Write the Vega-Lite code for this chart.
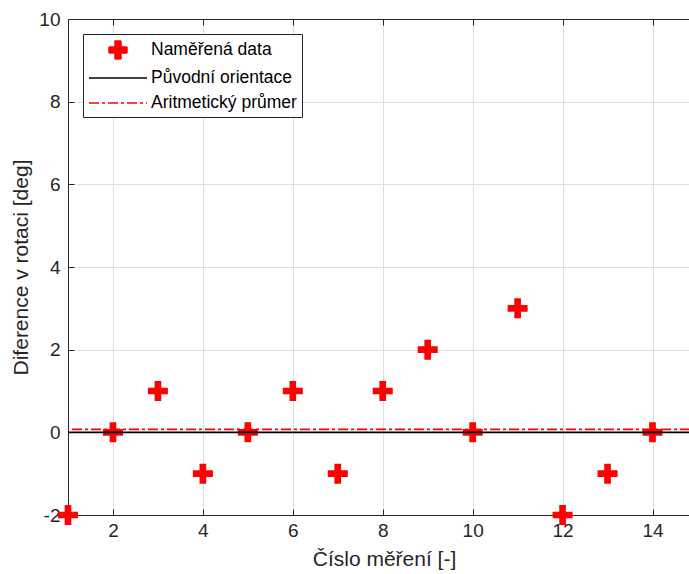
{
  "$schema": "https://vega.github.io/schema/vega-lite/v6.json",
  "width": 622,
  "height": 496,
  "autosize": {"type": "none"},
  "padding": {"left": 68, "top": 19, "right": 0, "bottom": 59},
  "background": "white",
  "config": {
    "font": "Liberation Sans",
    "view": {"stroke": null},
    "axis": {
      "labelFont": "Liberation Sans",
      "labelFontSize": 19,
      "labelColor": "#262626",
      "titleFont": "Liberation Sans",
      "titleFontSize": 21,
      "titleFontWeight": "normal",
      "titleColor": "#262626",
      "domainColor": "#262626",
      "tickColor": "#262626",
      "gridColor": "#dfdfdf",
      "gridOpacity": 1,
      "tickSize": -6,
      "domainWidth": 1,
      "tickWidth": 1
    },
    "axisY": {"labelPadding": 14}
  },
  "resolve": {"axis": {"x": "independent"}},
  "layer": [
    {
      "data": {"values": [
        {"n": 1, "d": -2}, {"n": 2, "d": 0}, {"n": 3, "d": 1}, {"n": 4, "d": -1},
        {"n": 5, "d": 0}, {"n": 6, "d": 1}, {"n": 7, "d": -1}, {"n": 8, "d": 1},
        {"n": 9, "d": 2}, {"n": 10, "d": 0}, {"n": 11, "d": 3}, {"n": 12, "d": -2},
        {"n": 13, "d": -1}, {"n": 14, "d": 0}
      ]},
      "mark": {"type": "point", "filled": true, "size": 494, "opacity": 1, "strokeWidth": 0, "clip": false},
      "encoding": {
        "x": {
          "field": "n", "type": "quantitative",
          "scale": {"domain": [1, 14.834], "nice": false, "zero": false},
          "axis": {"orient": "bottom", "values": [2, 4, 6, 8, 10, 12, 14], "grid": true, "title": "Číslo měření [-]", "labelPadding": 12, "titleX": 316, "titleY": 50, "titleBaseline": "alphabetic", "titleAnchor": "middle", "titleAlign": "center", "labelExpr": "datum.value + ''"}
        },
        "y": {
          "field": "d", "type": "quantitative",
          "scale": {"domain": [-2, 10], "nice": false, "zero": false},
          "axis": {"values": [-2, 0, 2, 4, 6, 8, 10], "grid": true, "title": "Diference v rotaci [deg]", "labelPadding": 14, "titleX": -41, "titleY": 248, "titleBaseline": "alphabetic", "titleAngle": 270, "titleAlign": "center", "titleAnchor": "middle", "labelExpr": "datum.value + ''"}
        },
        "color": {
          "datum": "Naměřená data",
          "title": null,
          "scale": {"domain": ["Naměřená data", "Původní orientace", "Aritmetický průmer"], "range": ["#ff0000", "#000000", "#ff0000"]},
          "legend": {
            "orient": "none", "legendX": 15, "legendY": 15, "title": null,
            "fillColor": "white", "strokeColor": "#262626", "padding": 5,
            "symbolSize": 400, "symbolOffset": 19, "labelOffset": 22,
            "labelFontSize": 17.5, "labelFont": "Liberation Sans", "labelColor": "#000000",
            "rowPadding": 5, "symbolStrokeWidth": 1.5,
            "encode": {"symbols": {"update": {
              "fill": {"scale": "color", "field": "value"},
              "stroke": {"scale": "color", "field": "value"},
              "shape": {"scale": "shape", "field": "value"},
              "strokeDash": {"scale": "strokeDash", "field": "value"},
              "strokeWidth": {"value": 1.5},
              "opacity": {"value": 1}
            }}}
          }
        },
        "shape": {
          "datum": "Naměřená data",
          "scale": {"domain": ["Naměřená data", "Původní orientace", "Aritmetický průmer"], "range": ["M-0.3,-0.9H0.3V-0.3H0.9V0.3H0.3V0.9H-0.3V0.3H-0.9V-0.3H-0.3Z", "M-2.9,0H2.9", "M-2.9,0H2.9"]},
          "legend": null
        }
      }
    },
    {
      "data": {"values": [
        {"series": "Původní orientace", "y": 0},
        {"series": "Aritmetický průmer", "y": 0.0714}
      ]},
      "mark": {"type": "rule", "strokeWidth": 1.6},
      "encoding": {
        "y": {"field": "y", "type": "quantitative"},
        "color": {"field": "series", "type": "nominal", "title": null},
        "strokeDash": {
          "field": "series", "type": "nominal", "title": null,
          "scale": {"domain": ["Naměřená data", "Původní orientace", "Aritmetický průmer"], "range": [[1, 0], [1, 0], [10, 3, 3, 3]]},
          "legend": null
        }
      }
    },
    {
      "data": {"values": [
        {"n": 1, "d": -2}, {"n": 14, "d": 0}
      ]},
      "mark": {"type": "point", "opacity": 0},
      "encoding": {
        "x": {
          "field": "n", "type": "quantitative",
          "axis": {"orient": "top", "values": [2, 4, 6, 8, 10, 12, 14], "labels": false, "grid": false, "title": null}
        },
        "y": {"field": "d", "type": "quantitative"}
      }
    }
  ]
}
